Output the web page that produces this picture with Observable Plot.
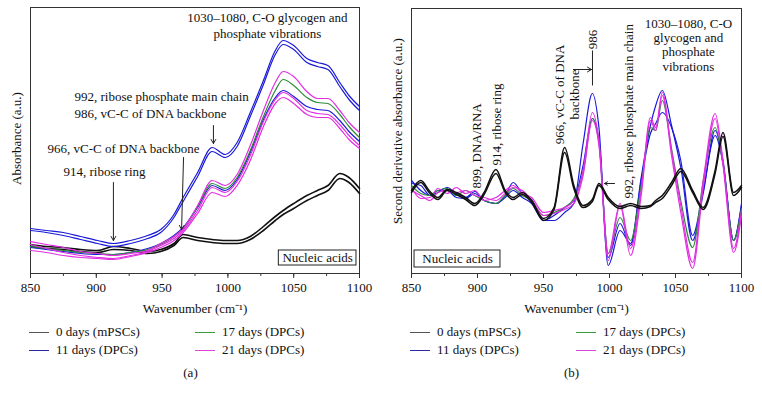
<!DOCTYPE html>
<html><head><meta charset="utf-8">
<script src="https://cdn.jsdelivr.net/npm/d3@7"></script>
<script src="https://cdn.jsdelivr.net/npm/@observablehq/plot@0.6"></script>
<style>
body{margin:0;background:#fff;font-family:"Liberation Serif","Times New Roman",serif;color:#111;}
#wrap{display:flex;width:762px;}
.panel{width:381px;}
.legend{display:grid;grid-template-columns:166px 170px;margin-left:29px;margin-top:3px;font-size:13px;}
.item{display:flex;align-items:center;height:18px;white-space:nowrap;}
.sw{width:20px;height:0;border-top:1.6px solid;margin-right:7px;}
.cap{text-align:center;font-size:13px;margin-top:5px;height:18px;line-height:18px;}
</style></head>
<body><div id="wrap"><div class="panel" id="pa"></div><div class="panel" id="pb"></div></div>
<script>
// ---------- legend / groups ----------
const groups = ["0 days (mPSCs)", "11 days (DPCs)", "17 days (DPCs)", "21 days (DPCs)"];
const panelLabels = ["(a)", "(b)"];
const xTicksMajor = [850, 900, 950, 1000, 1050, 1100];
const xTicksMinor = [850, 875, 900, 925, 950, 975, 1000, 1025, 1050, 1075, 1100];

// ---------- panel (a): absorbance, arbitrary units ----------
const waveA = [850, 862, 875, 888, 901, 913, 926, 939, 949, 959, 966, 977, 988, 998, 1007, 1017, 1027, 1036, 1042, 1050, 1060, 1068, 1076, 1085, 1092, 1100];
const a_day0_1  = [29, 27, 26, 24, 23, 27, 25, 22, 24, 30, 39, 36, 34, 33, 33, 37, 47, 57, 63, 70, 78, 83, 88, 100, 96, 85];
const a_day0_2  = [27, 25, 24, 22, 21, 24, 23, 20, 22, 28, 36, 33, 31, 30, 30, 34, 43, 53, 59, 65, 73, 78, 83, 95, 91, 80];
const a_day11_1 = [45, 43, 41, 37, 33, 30, 33, 38, 44, 59, 76, 101, 126, 119, 131, 161, 193, 223, 233, 228, 215, 211, 208, 191, 178, 167];
const a_day11_2 = [43, 41, 38, 34, 30, 27, 30, 35, 41, 56, 72, 97, 122, 116, 127, 157, 189, 219, 229, 224, 211, 207, 204, 187, 174, 163];
const a_day11_3 = [26, 24, 22, 20, 19, 19, 21, 25, 30, 38, 46, 66, 88, 83, 94, 121, 154, 176, 183, 177, 167, 164, 163, 153, 142, 132];
const a_day17_1 = [27, 25, 23, 21, 20, 19, 21, 24, 29, 37, 45, 67, 90, 85, 96, 123, 157, 183, 194, 188, 176, 171, 170, 159, 147, 136];
const a_day21_1 = [32, 29, 26, 22, 20, 18, 20, 23, 30, 37, 45, 68, 93, 88, 99, 128, 163, 191, 202, 197, 182, 175, 175, 163, 151, 141];
const a_day21_2 = [29, 25, 21, 18, 16, 15, 18, 22, 28, 35, 43, 63, 86, 81, 92, 118, 152, 174, 181, 175, 163, 160, 159, 149, 138, 128];
const a_day21_3 = [23, 21, 18, 16, 15, 14, 17, 21, 26, 33, 41, 60, 81, 77, 88, 113, 147, 170, 176, 170, 159, 156, 156, 145, 134, 125];

// ---------- panel (b): second derivative, arbitrary units ----------
const waveB = [850, 857, 864, 870, 877, 884, 891, 898, 905, 914, 921, 927, 934, 941, 950, 958, 966, 973, 980, 987, 992, 999, 1008, 1016, 1024, 1031, 1035, 1040, 1047, 1054, 1063, 1071, 1080, 1086, 1094, 1100];
const b_day0_1  = [5, 15, 4, -2, 6, 3, -2, -8, 3, 26, 5, -2, 3, -5, -23, -12, 48, 10, -10, -4, 12, -2, -11, -8, -11, -10, -5, 0, 13, 27, 5, -12, 25, 63, 3, 10];
const b_day0_2  = [3, 13, 2, -4, 5, 1, -4, -10, 1, 22, 3, -4, 1, -7, -25, -14, 43, 7, -12, -6, 10, -4, -13, -10, -13, -11, -7, -3, 10, 24, 3, -14, 22, 59, 0, 8];
const b_day11_1 = [15, 5, 0, 3, 8, 2, -2, 4, -5, -8, 0, 13, 2, -4, -25, -25, -17, -8, 52, 102, 68, -70, -35, -48, 18, 70, 90, 105, 70, 28, -45, 2, 65, 35, -45, -8];
const b_day11_2 = [12, 10, 0, 5, 5, -2, -3, 2, -5, -8, -2, 5, -2, -8, -25, -20, -12, -5, 30, 77, 55, -62, -28, -50, 15, 62, 72, 83, 68, 35, -40, 5, 60, 32, -45, -10];
const b_day17_1 = [10, 2, 0, 5, 7, 0, 5, 0, -5, -8, 0, 7, 0, -5, -20, -17, -12, -3, 23, 77, 53, -58, -22, -45, 10, 68, 65, 95, 47, -5, -52, 15, 68, 32, -45, -13];
const b_day21_1 = [8, -3, -2, 7, 2, 8, 2, 5, -5, -2, 5, 10, 2, -2, -17, -15, -12, -5, 25, 83, 55, -58, -8, -53, 5, 78, 68, 103, 45, -10, -67, 15, 82, 35, -53, -15];
const b_day21_2 = [5, 0, -5, 3, 5, 3, 5, 0, -2, -5, 2, 8, 5, -5, -20, -18, -14, -8, 20, 75, 50, -65, -10, -60, 0, 75, 65, 100, 40, -17, -73, 8, 77, 30, -57, -20];

// ---------- annotations (data coordinates) ----------
const notesA_mid = [
  {w: 1030, v: 248.5, text: "1030–1080, C-O glycogen and\nphosphate vibrations"}
];
const notesA_start = [
  {w: 883.4, v: 169.5, text: "992, ribose phosphate main chain\n986, vC-C of DNA backbone"},
  {w: 862.9, v: 126, text: "966, vC-C of DNA backbone"},
  {w: 875.1, v: 103, text: "914, ribose ring"}
];
const arrowsA = [
  {w1: 989, v1: 148, w2: 989, v2: 130},
  {w1: 966.3, v1: 116, w2: 964.8, v2: 44},
  {w1: 913, v1: 91, w2: 913, v2: 33}
];
const boxA = [{w1: 1038.7, w2: 1097.7, v1: 8, v2: 23, text: "Nucleic acids"}];

const notesB_start = [
  {w: 899.2, v: 7, text: "899, DNA/RNA"},
  {w: 914.4, v: 30, text: "914, ribose ring"},
  {w: 1014.4, v: -3, text: "992, ribose phosphate main chain"}
];
const notesB_mid = [
  {w: 967.4, v: 101, text: "966, vC-C of DNA\nbackbone"},
  {w: 987.1, v: 156, text: "986"}
];
const blockB = [{w: 1059.8, v: 151, text: "1030–1080, C-O\nglycogen and\nphosphate\nvibrations"}];
const arrowsB = [
  {w1: 972.7, v1: 126, w2: 986.4, v2: 126},
  {w1: 1003.8, v1: 12, w2: 996.2, v2: 12}
];
const linksB = [{w1: 987.1, v1: 145, w2: 987.1, v2: 110}];
const boxB = [{w1: 852.3, w2: 917.4, v1: -72, v2: -55, text: "Nucleic acids"}];

// ---------- build ----------
const curveColors = ["#111111", "#1a1ad8", "#2e8b3a", "#e22ee2"];
const legendColors = ["#555555", "#2a2aa0", "#3c9a3c", "#d848d8"];

function tidy(wave, list) {
  return list.flatMap(s => wave.map((w, i) => ({w, v: s.vals[i], group: s.group, id: s.id})));
}
const rowsA = tidy(waveA, [
  {group: groups[0], id: "a0-1", vals: a_day0_1}, {group: groups[0], id: "a0-2", vals: a_day0_2},
  {group: groups[1], id: "a11-1", vals: a_day11_1}, {group: groups[1], id: "a11-2", vals: a_day11_2}, {group: groups[1], id: "a11-3", vals: a_day11_3},
  {group: groups[2], id: "a17-1", vals: a_day17_1},
  {group: groups[3], id: "a21-1", vals: a_day21_1}, {group: groups[3], id: "a21-2", vals: a_day21_2}, {group: groups[3], id: "a21-3", vals: a_day21_3}
]);
const rowsB = tidy(waveB, [
  {group: groups[0], id: "b0-1", vals: b_day0_1}, {group: groups[0], id: "b0-2", vals: b_day0_2},
  {group: groups[1], id: "b11-1", vals: b_day11_1}, {group: groups[1], id: "b11-2", vals: b_day11_2},
  {group: groups[2], id: "b17-1", vals: b_day17_1},
  {group: groups[3], id: "b21-1", vals: b_day21_1}, {group: groups[3], id: "b21-2", vals: b_day21_2}
]);

function lineMarks(rows, order, blackWidth) {
  return order.map(gi => Plot.line(rows.filter(d => d.group === groups[gi]), {
    x: "w", y: "v", z: "id", stroke: curveColors[gi], strokeWidth: gi === 0 ? blackWidth : 1.2, curve: "monotone-x"
  }));
}

function commonMarks(yLabel, yLabelDy) {
  return [
    Plot.axisX({ticks: xTicksMinor, tickSize: 3, tickFormat: () => "", label: null, stroke: "#333"}),
    Plot.axisX({ticks: xTicksMajor, tickSize: 5, tickPadding: 4, tickFormat: d => String(d), label: null, stroke: "#333", fontSize: 13}),
    Plot.frame({stroke: "#333", strokeWidth: 1}),
    Plot.text([yLabel], {frameAnchor: "left", rotate: -90, dx: -14, dy: yLabelDy, fontSize: 13, textAnchor: "middle"}),
    Plot.text(["Wavenumber (cm⁻¹)"], {frameAnchor: "bottom", dy: 35, fontSize: 13, lineAnchor: "middle"})
  ];
}

const style = {fontFamily: "'Liberation Serif', 'Times New Roman', serif", fontSize: "13px", color: "#111", background: "transparent", overflow: "visible"};

const chartA = Plot.plot({
  width: 381, height: 320, marginLeft: 30, marginRight: 22, marginTop: 7, marginBottom: 47,
  style,
  x: {domain: [850, 1100], label: null},
  y: {domain: [0, 266], axis: null},
  marks: [
    ...commonMarks("Absorbance (a.u.)", -2),
    ...lineMarks(rowsA, [0, 1, 2, 3], 1.6),
    Plot.text(notesA_mid, {x: "w", y: "v", text: "text", textAnchor: "middle", lineAnchor: "middle", lineHeight: 1.2, fontSize: 13, fill: "#111"}),
    Plot.text(notesA_start, {x: "w", y: "v", text: "text", textAnchor: "start", lineAnchor: "middle", lineHeight: 1.3, fontSize: 13, fill: "#111"}),
    Plot.arrow(arrowsA, {x1: "w1", y1: "v1", x2: "w2", y2: "v2", stroke: "#222", strokeWidth: 1, headLength: 7}),
    Plot.rect(boxA, {x1: "w1", x2: "w2", y1: "v1", y2: "v2", fill: "#fff", stroke: "#222", strokeWidth: 1}),
    Plot.text(boxA, {x: d => (d.w1 + d.w2) / 2, y: d => (d.v1 + d.v2) / 2, text: "text", fontSize: 13, lineAnchor: "middle", fill: "#111"})
  ]
});

const chartB = Plot.plot({
  width: 381, height: 320, marginLeft: 30, marginRight: 21, marginTop: 8, marginBottom: 47,
  style,
  x: {domain: [850, 1100], label: null},
  y: {domain: [-78, 187], axis: null},
  marks: [
    ...commonMarks("Second derivative absorbance (a.u.)", -10),
    ...lineMarks(rowsB, [1, 2, 3, 0], 1.5),
    Plot.text(notesB_start, {x: "w", y: "v", text: "text", rotate: -90, textAnchor: "start", lineAnchor: "middle", fontSize: 13, fill: "#111"}),
    Plot.text(notesB_mid, {x: "w", y: "v", text: "text", rotate: -90, textAnchor: "middle", lineAnchor: "middle", lineHeight: 1.2, fontSize: 13, fill: "#111"}),
    Plot.text(blockB, {x: "w", y: "v", text: "text", lineAnchor: "middle", lineHeight: 1.1, fontSize: 13, fill: "#111"}),
    Plot.arrow(arrowsB, {x1: "w1", y1: "v1", x2: "w2", y2: "v2", stroke: "#222", strokeWidth: 1, headLength: 7}),
    Plot.link(linksB, {x1: "w1", y1: "v1", x2: "w2", y2: "v2", stroke: "#222", strokeWidth: 1}),
    Plot.rect(boxB, {x1: "w1", x2: "w2", y1: "v1", y2: "v2", fill: "#fff", stroke: "#222", strokeWidth: 1}),
    Plot.text(boxB, {x: d => (d.w1 + d.w2) / 2, y: d => (d.v1 + d.v2) / 2, text: "text", fontSize: 13, lineAnchor: "middle", fill: "#111"})
  ]
});

function legendHTML() {
  const order = [0, 2, 1, 3];
  return `<div class="legend">` + order.map(i =>
    `<div class="item"><span class="sw" style="border-color:${legendColors[i]}"></span>${groups[i]}</div>`).join("") + `</div>`;
}
const pa = document.getElementById("pa"), pb = document.getElementById("pb");
pa.appendChild(chartA);
pa.insertAdjacentHTML("beforeend", legendHTML() + `<div class="cap">${panelLabels[0]}</div>`);
pb.appendChild(chartB);
pb.insertAdjacentHTML("beforeend", legendHTML() + `<div class="cap">${panelLabels[1]}</div>`);
</script></body></html>
